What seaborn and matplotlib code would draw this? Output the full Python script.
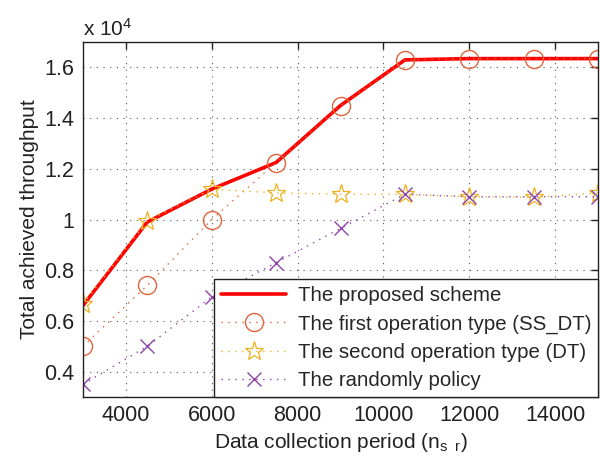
import numpy as np
import pandas as pd
import seaborn as sns
import matplotlib.pyplot as plt

# data collection period (n_s_r)
periods = [3000, 4500, 6000, 7500, 9000, 10500, 12000, 13500, 15000]
# total achieved throughput
proposed = [6600, 9900, 11200, 12250, 14500, 16300, 16350, 16350, 16350]
ss_dt = [5000, 7400, 10000, 12250, 14500, 16300, 16350, 16350, 16350]
dt = [6650, 9950, 11200, 11050, 11000, 11000, 10900, 10880, 11050]
randomly = [3500, 5000, 6950, 8300, 9650, 11000, 10900, 10900, 10900]

labels = ['The proposed scheme', 'The first operation type (SS_DT)',
          'The second operation type (DT)', 'The randomly policy']

sns.set_theme(style='white')
plt.rcParams['font.family'] = ['Liberation Sans', 'DejaVu Sans']
plt.rcParams['mathtext.fontset'] = 'custom'
plt.rcParams['mathtext.rm'] = 'Liberation Sans'
plt.rcParams['mathtext.it'] = 'Liberation Sans'

fig = plt.figure(figsize=(6, 4.63), dpi=100)
ax = fig.add_axes([0.138, 0.1425, 0.859, 0.7665])

x = np.array(periods)
dots = (0, (1, 4))
sns.lineplot(x=x, y=np.array(proposed) / 1e4, ax=ax, color='#ff0000', lw=2.6,
             label=labels[0])
sns.lineplot(x=x, y=np.array(ss_dt) / 1e4, ax=ax, color='#e0643a', lw=1, linestyle=dots,
             marker='o', markersize=13, markerfacecolor='none', markeredgecolor='#e0643a',
             markeredgewidth=1, label=labels[1])
sns.lineplot(x=x, y=np.array(dt) / 1e4, ax=ax, color='#edb120', lw=1, linestyle=dots,
             marker='*', markersize=14, markerfacecolor='none', markeredgecolor='#edb120',
             markeredgewidth=0.9, label=labels[2])
sns.lineplot(x=x, y=np.array(randomly) / 1e4, ax=ax, color='#8e44a8', lw=1, linestyle=dots,
             marker='x', markersize=10, markeredgecolor='#8e44a8', markeredgewidth=1,
             label=labels[3])

ax.set_xlim(3000, 15000)
ax.set_ylim(0.3, 1.7)
ax.set_xticks(range(4000, 15000, 2000))
ax.set_yticks([0.4, 0.6, 0.8, 1.0, 1.2, 1.4, 1.6])
ax.set_yticklabels(['%g' % v for v in [0.4, 0.6, 0.8, 1.0, 1.2, 1.4, 1.6]])
ax.grid(True, color='#555555', linestyle=(0, (1, 5)), lw=0.8)
for s in ax.spines.values():
    s.set_color('#222222')
    s.set_linewidth(1)
ax.tick_params(direction='in', length=5, width=1, top=True, right=True,
               labelsize=15.5, colors='#222222', pad=6)
ax.set_xlabel('Data collection period (n$_{s\\ \\ r}$)', fontsize=15, color='#222222',
              labelpad=3)
ax.set_ylabel('Total achieved throughput', fontsize=15, color='#222222', labelpad=4)
ax.text(0.0, 1.007, 'x 10$^{4}$', transform=ax.transAxes, fontsize=15, ha='left',
        va='bottom', color='#222222')

leg = ax.legend(loc='lower right', borderaxespad=0, fontsize=14.7, handlelength=3.2,
                labelspacing=0.45, frameon=True, fancybox=False, borderpad=0.35,
                handletextpad=0.55)
leg.get_frame().set_edgecolor('#222222')
leg.get_frame().set_linewidth(1)
leg.get_frame().set_alpha(1)

fig.savefig('out.png', dpi=100)
